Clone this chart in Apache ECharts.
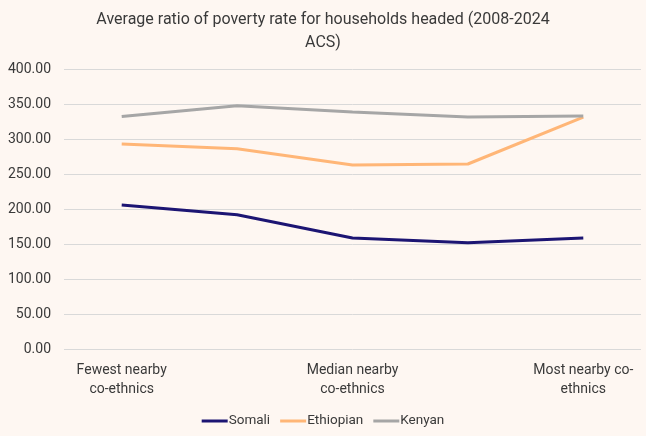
<!DOCTYPE html>
<html>
<head>
<meta charset="utf-8">
<style>
  html, body { margin: 0; padding: 0; background: #fef7f2; }
  #chart { width: 646px; height: 436px; }
</style>
<script src="https://cdn.jsdelivr.net/npm/echarts@6/dist/echarts.min.js"></script>
</head>
<body>
<div id="chart"></div>
<script>
// categories along the x axis (only every second one is labelled)
var categories = ['Fewest nearby\nco-ethnics', '', 'Median nearby\nco-ethnics', '', 'Most nearby co-\nethnics'];
var somali = [205.7, 191.9, 158.5, 151.8, 158.5];
var ethiopian = [292.8, 286.0, 262.8, 264.3, 331.4];
var kenyan = [332.0, 347.6, 338.5, 331.4, 332.8];

var fontFamily = "'Roboto', sans-serif";
var textColor = '#3a3a3a';

var myChart = echarts.init(document.getElementById('chart'));
var option = {
  backgroundColor: '#fef7f2',
  textStyle: { fontFamily: fontFamily },
  title: {
    text: 'Average ratio of poverty rate for households headed (2008-2024\nACS)',
    left: 'center',
    top: 3,
    textStyle: {
      fontFamily: fontFamily,
      fontSize: 16,
      fontWeight: 'normal',
      color: textColor,
      lineHeight: 23
    }
  },
  legend: {
    bottom: 3,
    left: 'center',
    itemWidth: 26,
    itemHeight: 3,
    itemGap: 10,
    icon: 'rect',
    textStyle: { fontFamily: fontFamily, fontSize: 13.5, color: textColor, padding: [0, 0, 0, -4] },
    data: ['Somali', 'Ethiopian', 'Kenyan']
  },
  grid: { left: 64, right: 5, top: 69, bottom: 87 },
  xAxis: {
    type: 'category',
    data: categories,
    boundaryGap: true,
    axisLine: { show: false },
    axisTick: { show: false },
    axisLabel: {
      interval: 0,
      margin: 12,
      fontFamily: fontFamily,
      fontSize: 14,
      lineHeight: 19,
      color: textColor
    }
  },
  yAxis: {
    type: 'value',
    min: 0,
    max: 400,
    interval: 50,
    axisLine: { show: false },
    axisTick: { show: false },
    splitLine: { lineStyle: { color: '#d9d9d9', width: 1 } },
    axisLabel: {
      margin: 13,
      fontFamily: fontFamily,
      fontSize: 14,
      color: textColor,
      formatter: function (v) { return v.toFixed(2); }
    }
  },
  series: [
    { name: 'Somali', type: 'line', data: somali, symbol: 'none', color: '#1c1573',
      lineStyle: { width: 3, color: '#1c1573' } },
    { name: 'Ethiopian', type: 'line', data: ethiopian, symbol: 'none', color: '#ffb677',
      lineStyle: { width: 3, color: '#ffb677' } },
    { name: 'Kenyan', type: 'line', data: kenyan, symbol: 'none', color: '#a6a6a6',
      lineStyle: { width: 3, color: '#a6a6a6' } }
  ]
};
myChart.setOption(option);
window.addEventListener('resize', function () {
  myChart.resize();
});
</script>
</body>
</html>
